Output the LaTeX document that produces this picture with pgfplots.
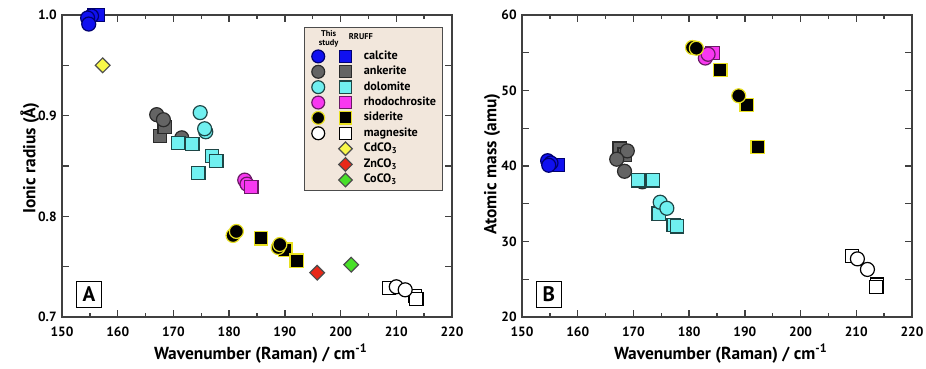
\documentclass[border=0pt]{standalone}
\usepackage{fontspec}
\setmainfont{PT Sans}
\usepackage{pgfplots}
\pgfplotsset{compat=1.18}

\definecolor{calfill}{HTML}{1010F0}
\definecolor{caledge}{HTML}{000070}
\definecolor{ankfill}{HTML}{646464}
\definecolor{ankedge}{HTML}{2A2A2A}
\definecolor{dolfill}{HTML}{70F0F0}
\definecolor{doledge}{HTML}{1E4646}
\definecolor{rhofill}{HTML}{F838F0}
\definecolor{rhoedge}{HTML}{6A1A66}
\definecolor{sidedge}{HTML}{E8E020}
\definecolor{cdfill}{HTML}{F8F848}
\definecolor{znfill}{HTML}{E82818}
\definecolor{cofill}{HTML}{48E028}
\definecolor{legbg}{HTML}{F2E7DC}

\newcommand\tl{\bfseries\fontsize{6.7}{7}\selectfont}
\newcommand\lb{\bfseries\fontsize{8.7}{10}\selectfont}

\pgfplotsset{
  base/.style={
    scale only axis, width=195pt, height=151pt,
    xmin=150, xmax=220, xtick={150,160,...,220}, minor x tick num=1,
    xticklabels={\tl 150,\tl 160,\tl 170,\tl 180,\tl 190,\tl 200,\tl 210,\tl 220},
    tick align=inside, major tick length=3.6pt, minor tick length=1.9pt,
    axis line style={line width=0.9pt, black!75},
    every tick/.style={black!75, line width=0.7pt},
    /pgf/number format/assume math mode=true,
    clip=false,
    xlabel={\lb Wavenumber (Raman) / cm\textsuperscript{-1}},
    xlabel style={at={(rel axis cs:0.51,0)}, anchor=base, yshift=-21.5pt, inner sep=0pt},
    xticklabel style={anchor=base, yshift=-9.8pt, inner sep=0pt},
    yticklabel style={inner sep=0pt, xshift=-2.5pt},
  },
  circ/.style 2 args={only marks, mark=*, mark size=3.5pt, mark options={fill=#1, draw=#2, line width=0.6pt}},
  sq/.style 2 args={only marks, mark=square*, mark size=3.3pt, mark options={fill=#1, draw=#2, line width=0.6pt}},
  dia/.style={only marks, mark=square*, mark size=2.6pt, mark options={fill=#1, draw=black!70, line width=0.6pt, rotate=45}},
  legend image code/.code={\draw[mark repeat=2,mark phase=2,#1, every mark/.append style={scale=0.92}] plot coordinates {(0cm,0cm) (0.15cm,0cm) (0.3cm,0cm)};},
}

\begin{document}
\begin{tikzpicture}
\path[use as bounding box] (-31pt,-26pt) rectangle (432pt,158.5pt);

% ---------------- Panel A ----------------
\begin{axis}[base,
  ymin=0.7, ymax=1.0, ytick={0.7,0.75,...,1.0}, yticklabels={\tl 0.7,,\tl 0.8,,\tl 0.9,,\tl 1.0},
  ylabel={\lb Ionic radius (Å)},
  ylabel style={at={(rel axis cs:-0.068,0.526)}, anchor=base, inner sep=0pt},
  legend columns=2,
  legend cell align=left,
  legend style={at={(0.977,0.96)}, anchor=north east, fill=legbg, draw=black!70, line width=0.6pt,
    font=\bfseries\fontsize{6.1}{6.8}\selectfont, inner xsep=2.8pt, inner ysep=2pt,
    nodes={inner sep=0.4pt}, row sep=1.05pt,
    /tikz/column 1/.style={column sep=6pt},
    /tikz/column 2/.style={column sep=0pt},
    /tikz/column 3/.style={column sep=5.4pt}},
]
% legend header
\addlegendimage{legend image code/.code={\path[draw=none,fill=none] (0.15cm,-4pt) -- (0.15cm,4pt); \node[overlay, draw=none, font=\bfseries\fontsize{4.2}{4.4}\selectfont, align=center, inner sep=0pt] at (0.15cm,0pt) {This\\study};}}
\addlegendentry{}
\addlegendimage{legend image code/.code={\path[draw=none,fill=none] (0.15cm,-4pt) -- (0.15cm,4pt); \node[overlay, draw=none, font=\bfseries\fontsize{4.2}{4.4}\selectfont, inner sep=0pt] at (0.2cm,0.6pt) {RRUFF};}}
\addlegendentry{}
\addlegendimage{circ={calfill}{caledge}}\addlegendentry{}
\addlegendimage{sq={calfill}{caledge}}\addlegendentry{calcite}
\addlegendimage{circ={ankfill}{ankedge}}\addlegendentry{}
\addlegendimage{sq={ankfill}{ankedge}}\addlegendentry{ankerite}
\addlegendimage{circ={dolfill}{doledge}}\addlegendentry{}
\addlegendimage{sq={dolfill}{doledge}}\addlegendentry{dolomite}
\addlegendimage{circ={rhofill}{rhoedge}}\addlegendentry{}
\addlegendimage{sq={rhofill}{rhoedge}}\addlegendentry{rhodochrosite}
\addlegendimage{circ={black}{sidedge}}\addlegendentry{}
\addlegendimage{sq={black}{sidedge}}\addlegendentry{siderite}
\addlegendimage{circ={white}{black}}\addlegendentry{}
\addlegendimage{sq={white}{black}}\addlegendentry{magnesite}
\addlegendimage{empty legend}\addlegendentry{}
\addlegendimage{dia=cdfill}\addlegendentry{CdCO\textsubscript{3}}
\addlegendimage{empty legend}\addlegendentry{}
\addlegendimage{dia=znfill}\addlegendentry{ZnCO\textsubscript{3}}
\addlegendimage{empty legend}\addlegendentry{}
\addlegendimage{dia=cofill}\addlegendentry{CoCO\textsubscript{3}}

% calcite
\addplot[sq={calfill}{caledge}, forget plot] coordinates {(155.8,1.0) (156.4,1.0)};
\addplot[circ={calfill}{caledge}, forget plot] coordinates {(155.3,0.999) (154.6,0.997) (154.8,0.991)};
% CdCO3
\addplot[dia=cdfill, forget plot] coordinates {(157.3,0.950)};
% ankerite
\addplot[sq={ankfill}{ankedge}, forget plot] coordinates {(167.6,0.880) (168.4,0.889)};
\addplot[circ={ankfill}{ankedge}, forget plot] coordinates {(167.0,0.901) (168.2,0.896) (171.5,0.878)};
% dolomite
\addplot[sq={dolfill}{doledge}, forget plot] coordinates {(170.9,0.873) (173.4,0.872) (174.5,0.843) (176.9,0.860) (177.7,0.855)};
\addplot[circ={dolfill}{doledge}, forget plot] coordinates {(174.8,0.903) (175.8,0.884) (175.6,0.887)};
% rhodochrosite
\addplot[circ={rhofill}{rhoedge}, forget plot] coordinates {(182.8,0.836) (183.2,0.832)};
\addplot[sq={rhofill}{rhoedge}, forget plot] coordinates {(184.0,0.829)};
% siderite
\addplot[sq={black}{sidedge}, forget plot] coordinates {(185.7,0.778) (190.1,0.767) (192.1,0.756)};
\addplot[circ={black}{sidedge}, forget plot] coordinates {(180.7,0.781) (181.3,0.785) (188.8,0.769) (189.1,0.772)};
% ZnCO3, CoCO3
\addplot[dia=znfill, forget plot] coordinates {(195.8,0.744)};
\addplot[dia=cofill, forget plot] coordinates {(201.9,0.752)};
% magnesite
\addplot[sq={white}{black}, forget plot] coordinates {(208.7,0.729) (213.4,0.721) (213.6,0.718)};
\addplot[circ={white}{black}, forget plot] coordinates {(210.0,0.730) (211.6,0.727)};

\node[draw=black, line width=0.6pt, font=\bfseries\fontsize{10.5}{12}\selectfont, inner sep=0pt, minimum size=12.8pt] at (rel axis cs:0.069,0.0745) {A};
\end{axis}

% ---------------- Panel B ----------------
\begin{axis}[base, at={(230pt,0pt)},
  ymin=20, ymax=60, ytick={20,25,...,60}, yticklabels={\tl 20,,\tl 30,,\tl 40,,\tl 50,,\tl 60},
  ylabel={\lb Atomic mass (amu)},
  ylabel style={at={(rel axis cs:-0.066,0.507)}, anchor=base, inner sep=0pt},
]
% calcite
\addplot[sq={calfill}{caledge}] coordinates {(155.6,40.1) (156.4,40.1)};
\addplot[circ={calfill}{caledge}] coordinates {(154.6,40.7) (155.2,40.4) (154.8,40.1)};
% ankerite
\addplot[sq={ankfill}{ankedge}] coordinates {(167.5,42.3) (168.4,41.5)};
\addplot[circ={ankfill}{ankedge}] coordinates {(168.9,42.0) (167.0,40.9) (168.4,39.3) (171.6,37.9)};
% dolomite
\addplot[sq={dolfill}{doledge}] coordinates {(170.9,38.1) (173.5,38.1) (174.5,33.7) (177.2,32.2) (177.8,32.0)};
\addplot[circ={dolfill}{doledge}] coordinates {(174.8,35.2) (176.0,34.4)};
% rhodochrosite
\addplot[sq={rhofill}{rhoedge}] coordinates {(184.2,55.0)};
\addplot[circ={rhofill}{rhoedge}] coordinates {(182.9,54.3) (183.4,54.8)};
% siderite
\addplot[sq={black}{sidedge}] coordinates {(185.6,52.7) (190.3,48.1) (192.3,42.5)};
\addplot[circ={black}{sidedge}] coordinates {(180.6,55.7) (181.3,55.6) (188.9,49.3)};
% magnesite
\addplot[sq={white}{black}] coordinates {(209.2,28.1) (213.7,24.3) (213.6,24.0)};
\addplot[circ={white}{black}] coordinates {(210.2,27.7) (212.0,26.3)};

\node[draw=black, line width=0.6pt, font=\bfseries\fontsize{10.5}{12}\selectfont, inner sep=0pt, minimum size=12.8pt] at (rel axis cs:0.069,0.0745) {B};
\end{axis}
\end{tikzpicture}
\end{document}
